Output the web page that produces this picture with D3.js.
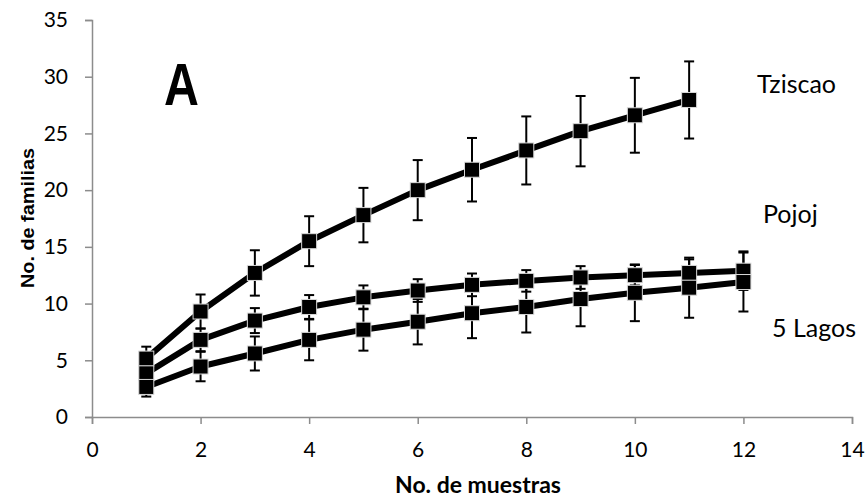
<!DOCTYPE html>
<html>
<head>
<meta charset="utf-8">
<script src="https://cdn.jsdelivr.net/npm/d3@7"></script>
<style>
  body { margin: 0; background: #fff; }
  svg { display: block; }
</style>
</head>
<body>
<svg id="chart" width="867" height="500"></svg>
<script>
// ---- data ----
const xTicks = [0, 2, 4, 6, 8, 10, 12, 14];
const yTicks = [0, 5, 10, 15, 20, 25, 30, 35];

const tziscaoX   = [1, 2, 3, 4, 5, 6, 7, 8, 9, 10, 11];
const tziscaoY   = [5.15, 9.3, 12.7, 15.5, 17.8, 20.0, 21.8, 23.5, 25.2, 26.6, 27.95];
const tziscaoErr = [1.05, 1.5, 2.0, 2.2, 2.4, 2.65, 2.8, 3.0, 3.1, 3.3, 3.4];

const pojojX   = [1, 2, 3, 4, 5, 6, 7, 8, 9, 10, 11, 12];
const pojojY   = [3.85, 6.8, 8.5, 9.7, 10.55, 11.15, 11.65, 12.0, 12.3, 12.5, 12.7, 12.9];
const pojojErr = [0.9, 1.0, 1.1, 1.05, 1.05, 1.0, 1.0, 0.95, 1.0, 0.9, 1.2, 1.7];

const lagosX   = [1, 2, 3, 4, 5, 6, 7, 8, 9, 10, 11, 12];
const lagosY   = [2.65, 4.45, 5.6, 6.8, 7.7, 8.4, 9.15, 9.7, 10.4, 10.95, 11.4, 11.9];
const lagosErr = [0.85, 1.3, 1.5, 1.8, 1.85, 2.0, 2.2, 2.25, 2.4, 2.5, 2.65, 2.6];

const seriesNames = ["Tziscao", "Pojoj", "5 Lagos"];
const xTitle = "No. de muestras";
const yTitle = "No. de familias";
const panelLetter = "A";

// ---- build ----
const series = [
  { name: seriesNames[0], x: tziscaoX, y: tziscaoY, e: tziscaoErr },
  { name: seriesNames[1], x: pojojX,   y: pojojY,   e: pojojErr },
  { name: seriesNames[2], x: lagosX,   y: lagosY,   e: lagosErr }
].map(s => ({ name: s.name, pts: s.x.map((xv, i) => ({ x: xv, y: s.y[i], e: s.e[i] })) }));

const svg = d3.select("#chart");
const W = 867, H = 500;
const m = { left: 92, right: 15, top: 20, bottom: 83 };

const x = d3.scaleLinear().domain([0, 14]).range([m.left, W - m.right]);
const y = d3.scaleLinear().domain([0, 35]).range([H - m.bottom, m.top]);

const tickFont = "Lato, 'Open Sans', sans-serif";
const axisColor = "#8c8c8c";

// y axis
const gy = svg.append("g").attr("transform", `translate(${x(0)},0)`)
  .call(d3.axisLeft(y).tickValues(yTicks).tickSize(7).tickPadding(17));
// x axis
const gx = svg.append("g").attr("transform", `translate(0,${y(0)})`)
  .call(d3.axisBottom(x).tickValues(xTicks).tickSize(7).tickPadding(18));

[gx, gy].forEach(g => {
  g.selectAll(".domain").attr("stroke", axisColor).attr("stroke-width", 1.5);
  g.selectAll(".tick line").attr("stroke", axisColor).attr("stroke-width", 1.5);
  g.selectAll(".tick text").attr("fill", "#000")
    .style("font-family", tickFont).style("font-size", "21px");
});

// error bars
const capW = 5;
const eb = svg.append("g").attr("stroke", "#000").attr("stroke-width", 2).attr("fill", "none");
series.forEach(s => {
  s.pts.forEach(p => {
    const cx = x(p.x), y1 = y(p.y + p.e), y2 = y(p.y - p.e);
    eb.append("line").attr("x1", cx).attr("x2", cx).attr("y1", y1).attr("y2", y2);
    eb.append("line").attr("x1", cx - capW).attr("x2", cx + capW).attr("y1", y1).attr("y2", y1);
    eb.append("line").attr("x1", cx - capW).attr("x2", cx + capW).attr("y1", y2).attr("y2", y2);
  });
});

// lines
const line = d3.line().x(d => x(d.x)).y(d => y(d.y));
svg.append("g").selectAll("path").data(series).join("path")
  .attr("d", d => line(d.pts))
  .attr("fill", "none").attr("stroke", "#000").attr("stroke-width", 6)
  .attr("stroke-linejoin", "round");

// markers
const ms = 15;
series.forEach(s => {
  svg.append("g").selectAll("rect").data(s.pts).join("rect")
    .attr("x", d => x(d.x) - ms / 2).attr("y", d => y(d.y) - ms / 2)
    .attr("width", ms).attr("height", ms)
    .attr("fill", "#000").attr("stroke", "#d9d9d9").attr("stroke-width", 1);
});

// series labels
const labelPos = [[757, 93], [763, 223], [772, 337]];
series.forEach((s, i) => {
  svg.append("text").attr("x", labelPos[i][0]).attr("y", labelPos[i][1])
    .style("font-family", tickFont).style("font-size", "25px").attr("fill", "#000")
    .text(s.name);
});

// panel letter
svg.append("text").attr("transform", "translate(164,105) scale(0.82,1)")
  .style("font-family", "'Liberation Sans', Arial, sans-serif").style("font-weight", "bold")
  .style("font-size", "59px").attr("fill", "#000").text(panelLetter);

// axis titles
svg.append("text").attr("x", 478).attr("y", 493).attr("text-anchor", "middle")
  .style("font-family", tickFont).style("font-weight", "bold").style("font-size", "23px")
  .text(xTitle);
svg.append("text").attr("transform", "translate(34,218) rotate(-90)").attr("text-anchor", "middle")
  .style("font-family", "'Liberation Sans', Arial, sans-serif").style("font-weight", "bold")
  .style("font-size", "18px")
  .attr("textLength", 140).attr("lengthAdjust", "spacingAndGlyphs")
  .text(yTitle);
</script>
</body>
</html>
